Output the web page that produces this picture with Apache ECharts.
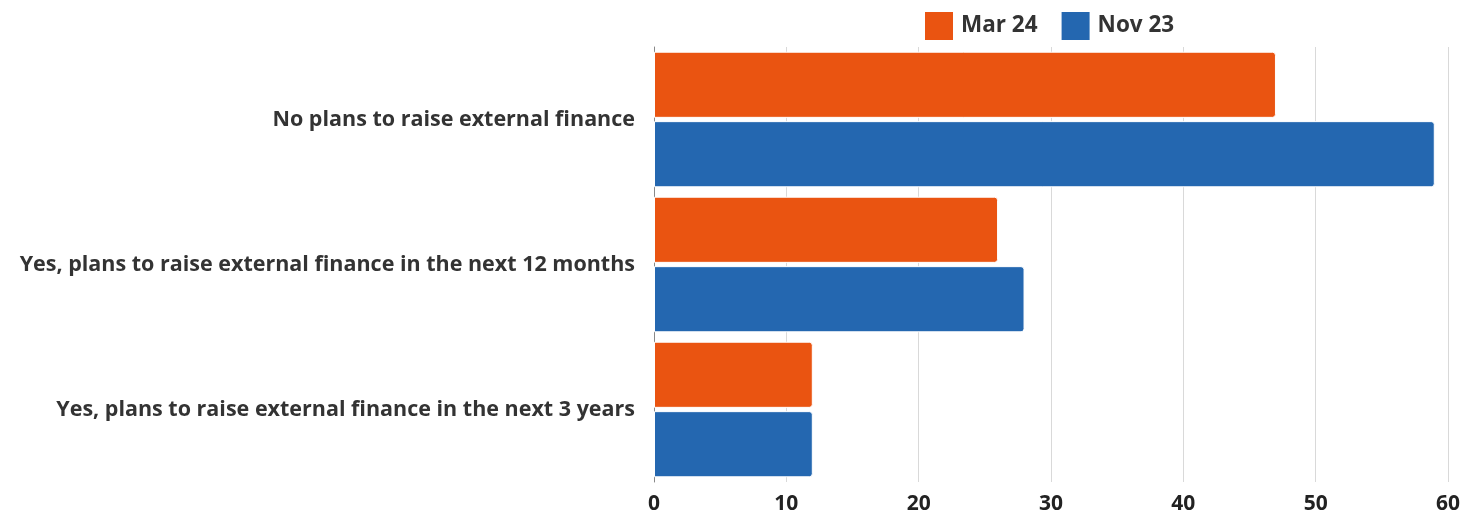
<!DOCTYPE html>
<html>
<head>
<meta charset="utf-8">
<script src="https://cdn.jsdelivr.net/npm/echarts@6/dist/echarts.min.js"></script>
<style>
  html, body { margin: 0; padding: 0; background: #fff; }
  #chart { width: 1469px; height: 515px; }
</style>
</head>
<body>
<div id="chart"></div>
<script>
// Survey answers, listed top to bottom
const categories = [
  'No plans to raise external finance',
  'Yes, plans to raise external finance in the next 12 months',
  'Yes, plans to raise external finance in the next 3 years'
];
const seriesNames = ['Mar 24', 'Nov 23'];
const mar24 = [47, 26, 12];
const nov23 = [59, 28, 12];
const xTicks = [0, 10, 20, 30, 40, 50, 60];

const colors = ['#EA5411', '#2467B0'];
const fontFamily = '"Open Sans", Lato, sans-serif';

const chart = echarts.init(document.getElementById('chart'), null, { renderer: 'canvas' });

chart.setOption({
  animation: false,
  color: colors,
  textStyle: { fontFamily },
  legend: {
    top: 10,
    left: 923,
    padding: 0,
    itemWidth: 30,
    itemHeight: 30,
    itemGap: 22,
    icon: 'rect',
    textStyle: { fontSize: 22.5, fontWeight: 'bold', color: '#333', fontFamily, padding: [0, 0, 0, 2] },
    data: seriesNames
  },
  grid: { left: 654, right: 21, top: 47, bottom: 28, containLabel: false },
  xAxis: {
    type: 'value',
    min: xTicks[0],
    max: xTicks[xTicks.length - 1],
    interval: 10,
    axisLine: { show: false },
    axisTick: { show: false },
    axisLabel: { fontSize: 21, fontWeight: 'bold', color: '#222', fontFamily, margin: 12 },
    splitLine: { show: true, lineStyle: { color: '#d9d9d9', width: 1 } }
  },
  yAxis: {
    type: 'category',
    inverse: true,
    data: categories,
    axisLine: { show: true, lineStyle: { color: '#888', width: 1 } },
    axisTick: { show: false },
    axisLabel: { fontSize: 21.5, fontWeight: 'bold', color: '#333', fontFamily, margin: 19 }
  },
  series: [
    {
      name: seriesNames[0],
      type: 'bar',
      data: mar24,
      barGap: '5%',
      barCategoryGap: '6.5%',
      itemStyle: { borderRadius: [0, 3, 3, 0], borderColor: '#fff', borderWidth: 1 }
    },
    {
      name: seriesNames[1],
      type: 'bar',
      data: nov23,
      barGap: '5%',
      barCategoryGap: '6.5%',
      itemStyle: { borderRadius: [0, 3, 3, 0], borderColor: '#fff', borderWidth: 1 }
    }
  ]
});
</script>
</body>
</html>
